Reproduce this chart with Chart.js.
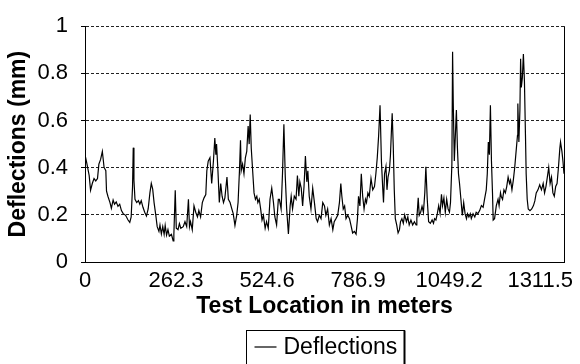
<!DOCTYPE html>
<html>
<head>
<meta charset="utf-8">
<script src="https://cdn.jsdelivr.net/npm/chart.js@4"></script>
<style>
    html, body { margin: 0; padding: 0; background: #fff; }
    #chart { display: block; }
</style>
</head>
<body>
<canvas id="chart" width="580" height="364"></canvas>
<script>
// test locations (m) and deflections (mm)
const locations = [
    0, 5, 12, 16, 21, 26, 31, 36, 40, 45,
    50, 55, 60, 62, 66, 72, 76, 81, 85, 90,
    95, 100, 105, 110, 117, 124, 129, 133, 137, 139,
    141, 144, 149, 154, 158, 162, 167, 172, 177, 182,
    187, 191, 195, 199, 204, 208, 213, 216, 220, 224,
    228, 231, 235, 239, 243, 249, 254, 256, 260, 263,
    268, 272, 276,
    283, 288, 293, 298, 301, 304, 309, 314, 319, 324,
    328, 333, 338, 343, 348, 351, 355, 360, 365, 370,
    374, 377, 379, 383, 387, 391, 395, 399, 403, 409,
    413, 418, 423, 427, 432, 437, 441, 445, 448, 450,
    454, 458, 462, 466, 470, 473, 476, 479, 483, 487,
    491, 495, 498, 502, 506, 510, 514, 519, 523, 528,
    533, 538, 543, 547, 552, 557,
    560, 565, 569, 573, 577, 581, 586, 591, 594, 598,
    603, 608, 612, 616, 619, 623, 627, 631, 635, 639,
    642, 646, 651, 656, 661, 666, 670, 675, 680, 685,
    690, 694, 699, 704, 709, 714, 718, 723, 728, 733,
    737, 740, 744, 748, 752, 757, 762, 766, 771, 776,
    781, 785, 788, 792, 796, 800, 804, 808, 811, 815,
    819, 824, 829, 834,
    838, 842, 846, 850, 854, 858, 860, 863, 867, 870,
    873, 877, 880, 883, 885, 888, 891, 894, 898, 902,
    906, 909, 913, 917, 921, 926, 930, 934, 939, 944,
    949, 954, 956, 960, 963, 967, 971, 975, 979, 982,
    986, 990, 995, 1000, 1004, 1007, 1011, 1015, 1019, 1023,
    1027, 1030, 1034, 1038, 1042, 1046, 1050, 1053, 1057, 1059,
    1061, 1064, 1067, 1070, 1073, 1076, 1079, 1083, 1087, 1091,
    1095, 1099, 1102, 1106, 1110,
    1113, 1118, 1123, 1127, 1132, 1137, 1142, 1147, 1151, 1156,
    1159, 1162, 1165, 1168, 1171, 1174, 1176, 1180, 1185, 1190,
    1193, 1197, 1199, 1203, 1207, 1211, 1215, 1219, 1223, 1226,
    1230, 1234, 1238, 1242, 1246, 1247, 1250, 1253, 1255, 1257,
    1260, 1263, 1266, 1269, 1271, 1274, 1277, 1282, 1287, 1292,
    1296, 1300, 1305, 1310, 1315, 1320, 1324, 1328, 1332, 1336,
    1340, 1344, 1348, 1352, 1356, 1360, 1364, 1368, 1370, 1374,
    1377, 1380
];

const deflections = [
    0.455, 0.42, 0.367, 0.304, 0.333, 0.354, 0.344, 0.354, 0.415, 0.435,
    0.469, 0.401, 0.387, 0.300, 0.279, 0.252, 0.228, 0.263, 0.245, 0.255,
    0.236, 0.245, 0.218, 0.205, 0.198, 0.178, 0.168, 0.191, 0.32, 0.485,
    0.347, 0.266, 0.252, 0.26, 0.245, 0.26, 0.232, 0.211, 0.195, 0.225,
    0.293, 0.333, 0.309, 0.252, 0.198, 0.150, 0.130, 0.157, 0.119, 0.150,
    0.117, 0.155, 0.114, 0.137, 0.110, 0.117, 0.089, 0.117, 0.304, 0.143,
    0.137, 0.163, 0.143,
    0.150, 0.171, 0.150, 0.266, 0.150, 0.171, 0.137, 0.238, 0.211, 0.191,
    0.218, 0.191, 0.252, 0.272, 0.286, 0.387, 0.428, 0.442, 0.333, 0.428,
    0.526, 0.455, 0.5, 0.387, 0.252, 0.333, 0.279, 0.252, 0.272, 0.360,
    0.266, 0.252, 0.225, 0.205, 0.155, 0.198, 0.252, 0.387, 0.516, 0.387,
    0.415, 0.374, 0.442, 0.469, 0.577, 0.5, 0.625, 0.482, 0.387, 0.293,
    0.266, 0.279, 0.252, 0.266, 0.225, 0.178, 0.198, 0.143, 0.171, 0.143,
    0.266, 0.313, 0.252, 0.191, 0.157, 0.266,
    0.266, 0.225, 0.374, 0.584, 0.362, 0.225, 0.119, 0.238, 0.279, 0.225,
    0.279, 0.266, 0.367, 0.279, 0.340, 0.313, 0.238, 0.320, 0.449, 0.340,
    0.387, 0.279, 0.225, 0.313, 0.252, 0.184, 0.171, 0.198, 0.184, 0.252,
    0.238, 0.198, 0.225, 0.157, 0.184, 0.137, 0.171, 0.184, 0.198, 0.252,
    0.333, 0.279, 0.225, 0.238, 0.184, 0.198, 0.184, 0.157, 0.123, 0.130,
    0.118, 0.184, 0.279, 0.238, 0.374, 0.279, 0.225, 0.266, 0.252, 0.293,
    0.279, 0.354, 0.306, 0.320,
    0.374, 0.442, 0.537, 0.665, 0.427, 0.306, 0.252, 0.374, 0.405, 0.306,
    0.360, 0.388, 0.453, 0.564, 0.631, 0.497, 0.306, 0.184, 0.157, 0.123,
    0.137, 0.171, 0.184, 0.164, 0.2, 0.171, 0.191, 0.157, 0.178, 0.157,
    0.171, 0.157, 0.184, 0.272, 0.198, 0.211, 0.236, 0.211, 0.295, 0.404,
    0.266, 0.171, 0.164, 0.178, 0.164, 0.184, 0.178, 0.205, 0.239, 0.205,
    0.287, 0.239, 0.272, 0.211, 0.266, 0.225, 0.211, 0.252, 0.415, 0.892,
    0.672, 0.428, 0.537, 0.645, 0.482, 0.374, 0.333, 0.266, 0.198, 0.252,
    0.205, 0.184, 0.205, 0.191, 0.205,
    0.184, 0.205, 0.191, 0.211, 0.205, 0.218, 0.239, 0.232, 0.266, 0.306,
    0.374, 0.509, 0.455, 0.665, 0.428, 0.293, 0.178, 0.184, 0.239, 0.266,
    0.239, 0.293, 0.279, 0.266, 0.306, 0.293, 0.320, 0.360, 0.333, 0.347,
    0.306, 0.347, 0.401, 0.469, 0.537, 0.672, 0.509, 0.645, 0.862, 0.740,
    0.780, 0.882, 0.767, 0.537, 0.374, 0.266, 0.225, 0.218, 0.225, 0.239,
    0.259, 0.293, 0.306, 0.327, 0.306, 0.333, 0.293, 0.320, 0.360, 0.401,
    0.333, 0.360, 0.293, 0.279, 0.320, 0.333, 0.401, 0.482, 0.509, 0.469,
    0.428, 0.374
];

const xTickValues = [0, 262.3, 524.6, 786.9, 1049.2, 1311.5];
const yTickValues = [0, 0.2, 0.4, 0.6, 0.8, 1];
const yMinorTicks = [0.1, 0.3, 0.5, 0.7, 0.9];

const FONT = '"Liberation Sans", Arial, sans-serif';
Chart.defaults.font.family = FONT;
Chart.defaults.color = '#000';

const points = locations.map((x, i) => ({ x: x, y: deflections[i] }));

function isMajor(value) {
    return yTickValues.some(v => Math.abs(v - value) < 1e-6);
}

// right edge of the plot frame + the boxed legend under the chart
const framePlugin = {
    id: 'frame',
    afterDraw(chart) {
        const { ctx, chartArea } = chart;
        ctx.save();
        ctx.strokeStyle = '#000';
        ctx.lineWidth = 1;
        ctx.beginPath();
        ctx.moveTo(chartArea.right + 0.5, chartArea.top);
        ctx.lineTo(chartArea.right + 0.5, chartArea.bottom);
        ctx.stroke();

        const label = chart.data.datasets[0].label;
        ctx.font = '23px ' + FONT;
        const textW = ctx.measureText(label).width;
        const boxW = Math.round(textW + 44);
        const boxX = Math.round((chartArea.left + chartArea.right) / 2 - boxW / 2) + 0.5;
        const boxY = 330.5;
        ctx.strokeRect(boxX, boxY, boxW, 40);
        ctx.lineWidth = 2;
        ctx.beginPath();
        ctx.moveTo(boxX + boxW, boxY);
        ctx.lineTo(boxX + boxW, boxY + 40);
        ctx.stroke();

        ctx.lineWidth = 1.2;
        ctx.beginPath();
        ctx.moveTo(boxX + 8, 347);
        ctx.lineTo(boxX + 30, 347);
        ctx.stroke();

        ctx.fillStyle = '#000';
        ctx.textBaseline = 'middle';
        ctx.fillText(label, boxX + 37, 348);
        ctx.restore();
    }
};

new Chart(document.getElementById('chart'), {
    type: 'line',
    data: {
        datasets: [{
            label: 'Deflections',
            data: points,
            borderColor: '#000',
            borderWidth: 1.2,
            pointRadius: 0,
            tension: 0,
            fill: false
        }]
    },
    options: {
        responsive: false,
        animation: false,
        layout: { padding: { top: 16, right: 16, bottom: 44, left: 0 } },
        plugins: {
            legend: { display: false },
            tooltip: { enabled: false }
        },
        scales: {
            x: {
                type: 'linear',
                min: 0,
                max: 1380,
                afterBuildTicks: scale => { scale.ticks = xTickValues.map(v => ({ value: v })); },
                afterFit: scale => { scale.height = 58; },
                grid: { display: false, drawTicks: false },
                border: { display: true, color: '#000', width: 1 },
                ticks: {
                    padding: 6,
                    maxRotation: 0,
                    autoSkip: false,
                    font: { size: 22 },
                    callback: v => v === 0 ? '0' : v.toFixed(1)
                },
                title: {
                    display: true,
                    text: 'Test Location in meters',
                    font: { size: 23, weight: 'bold' },
                    padding: 0
                }
            },
            y: {
                min: 0,
                max: 1,
                afterBuildTicks: scale => {
                    scale.ticks = yTickValues.concat(yMinorTicks).sort((a, b) => a - b).map(v => ({ value: v }));
                },
                afterFit: scale => { scale.width = 85; },
                grid: {
                    color: ctx => (ctx.tick && isMajor(ctx.tick.value) && ctx.tick.value > 0) ? '#222' : 'rgba(0,0,0,0)',
                    tickColor: '#000',
                    tickLength: 4,
                    lineWidth: 1
                },
                border: { display: true, color: '#000', width: 1, dash: [3, 2] },
                ticks: {
                    padding: 13,
                    font: { size: 22 },
                    callback: v => {
                        if (!isMajor(v)) return '';
                        return (v === 0 || v === 1) ? String(v) : v.toFixed(1);
                    }
                },
                title: {
                    display: true,
                    text: 'Deflections (mm)',
                    font: { size: 23, weight: 'bold' },
                    padding: { top: 5, bottom: 0 }
                }
            }
        }
    },
    plugins: [framePlugin]
});
</script>
</body>
</html>
